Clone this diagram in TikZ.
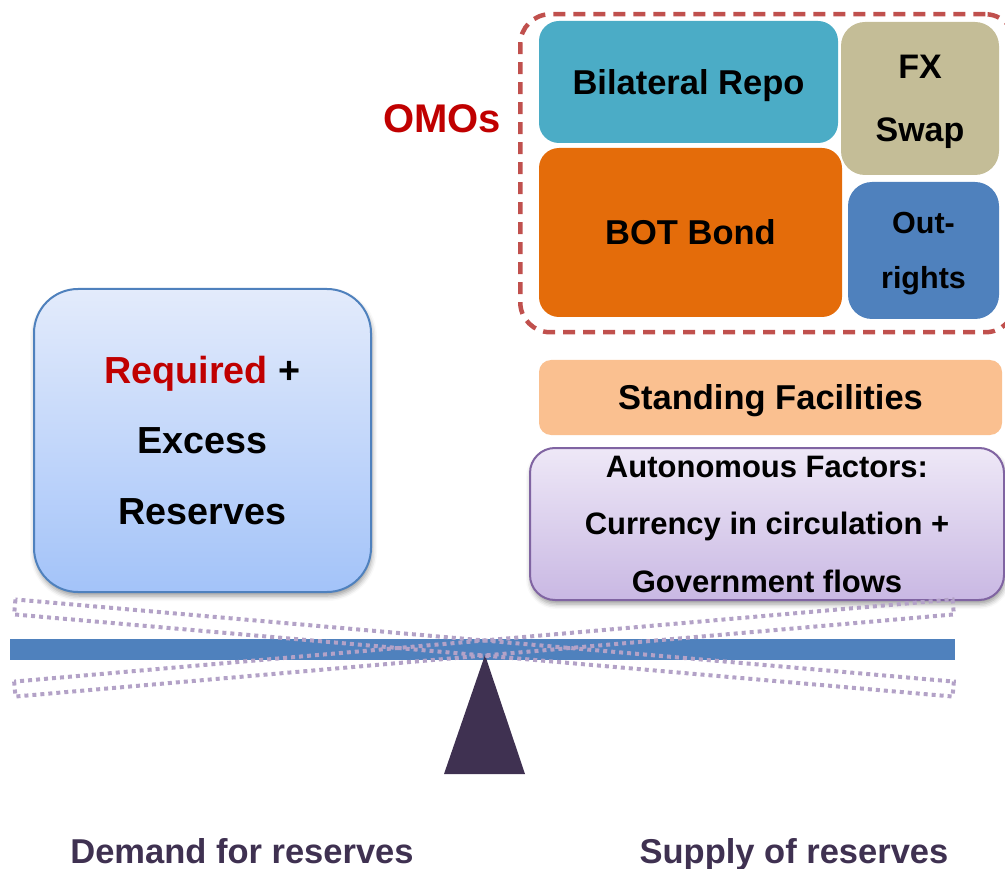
\documentclass[tikz,border=0pt]{standalone}
\usepackage{fontspec}
\setmainfont{Liberation Sans}
\usetikzlibrary{shadows.blur}

\definecolor{repoblue}{HTML}{4BACC6}
\definecolor{swaptan}{HTML}{C4BD97}
\definecolor{bondorange}{HTML}{E46C0A}
\definecolor{outblue}{HTML}{4F81BD}
\definecolor{omoframe}{HTML}{C0504D}
\definecolor{omotext}{HTML}{C00000}
\definecolor{standpeach}{HTML}{FAC090}
\definecolor{autotop}{HTML}{EEE8F7}
\definecolor{autobottom}{HTML}{C9B8E3}
\definecolor{autoframe}{HTML}{8064A2}
\definecolor{demtop}{HTML}{E3EBFB}
\definecolor{dembottom}{HTML}{A3C3F9}
\definecolor{beamblue}{HTML}{4F81BD}
\definecolor{fulcrum}{HTML}{3F3151}
\definecolor{swing}{HTML}{B3A2C7}
\definecolor{caption}{HTML}{3F3151}

\begin{document}
\begin{tikzpicture}[x=1pt, y=-1pt,
  tile/.style={rounded corners=#1, inner sep=0pt, outer sep=0pt,
    align=center, anchor=north west, text=black},
  tile/.default=20pt,
  bigtext/.style={font=\bfseries\fontsize{34.5}{40}\selectfont},
  softshadow/.style={blur shadow={shadow xshift=1pt, shadow yshift=-4pt,
    shadow blur radius=5pt, shadow opacity=40}},
  swingbar/.style={draw=swing, line width=4pt,
    dash pattern=on 4pt off 4pt},
  caplabel/.style={anchor=base, text=caption,
    font=\bfseries\fontsize{34.5}{40}\selectfont}]

\useasboundingbox (0,0) rectangle (1005,869);

% open market operations
\node[tile, bigtext, fill=repoblue, text depth=0pt,
  minimum width=299pt, minimum height=122pt]
  (repo) at (539,21) {Bilateral Repo};
\node[tile=24pt, fill=swaptan, text depth=0pt,
  minimum width=158pt, minimum height=153pt,
  font=\bfseries\fontsize{34}{63.5}\selectfont]
  (swap) at (841,22) {FX\\Swap};
\node[tile, bigtext, fill=bondorange, minimum width=303pt, minimum height=169pt]
  (bond) at (539,148) {BOT Bond};
\node[tile=24pt, fill=outblue, text depth=0pt,
  minimum width=151pt, minimum height=137pt,
  font=\bfseries\fontsize{30.5}{55.5}\selectfont]
  (outr) at (848,182) {Out-\\rights};

\node[draw=omoframe, line width=4.5pt, dash pattern=on 12pt off 8pt,
  rounded corners=30pt, inner sep=0pt, anchor=north west,
  minimum width=495pt, minimum height=318pt] (omoframe) at (518,12) {};
\node[anchor=base, text=omotext, font=\bfseries\fontsize{40}{44}\selectfont]
  (omo) at (442,133) {OMOs};

% standing facilities and autonomous factors
\node[tile=12pt, bigtext, fill=standpeach, text depth=0pt,
  minimum width=463pt, minimum height=75pt]
  (stand) at (539,360) {Standing Facilities};
\node[tile=25pt, draw=autoframe, line width=2pt, top color=autotop,
  bottom color=autobottom, softshadow,
  minimum width=474pt, minimum height=152pt,
  font=\bfseries\fontsize{31}{57.5}\selectfont]
  (auto) at (530,448) {Autonomous Factors:\\Currency in circulation +\\Government flows};

% demand side
\node[tile=44pt, draw=outblue, line width=2pt, top color=demtop,
  bottom color=dembottom, softshadow,
  minimum width=337pt, minimum height=303pt,
  font=\bfseries\fontsize{37.7}{70.5}\selectfont]
  (dem) at (34,289) {{\color{omotext}Required} +\\Excess\\Reserves};

% balance beam and fulcrum
\coordinate (pivot) at (484,648);
\fill[beamblue] (10,639) rectangle (955,660);
\fill[fulcrum] (485,655) -- (525,774) -- (444,774) -- cycle;

% tilted beam positions
\draw[swingbar, rotate around={5:(pivot)}] (13,640.5) rectangle (955,655.5);
\draw[swingbar, rotate around={-5:(pivot)}] (13,640.5) rectangle (955,655.5);

% captions
\node[caplabel] (demand) at (242,863) {Demand for reserves};
\node[caplabel] (supply) at (794,863) {Supply of reserves};

\end{tikzpicture}
\end{document}
